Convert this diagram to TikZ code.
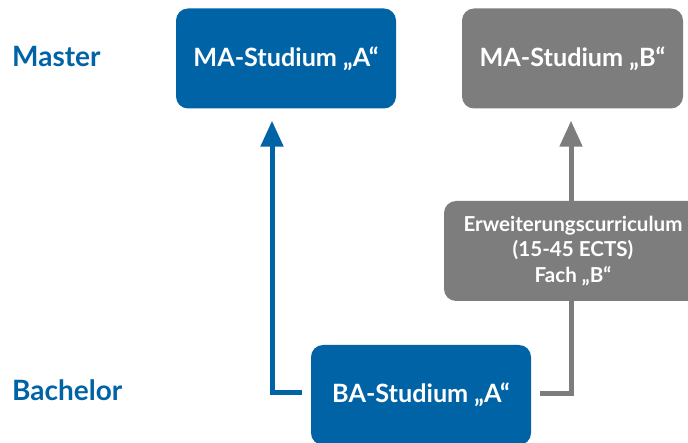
\documentclass[tikz,border=0pt]{standalone}
\usepackage{fontspec}
\setmainfont{Lato}
\usetikzlibrary{arrows.meta}
\definecolor{uniblue}{RGB}{0,99,166}
\definecolor{unigray}{RGB}{125,125,125}
\tikzset{
  box/.style={rounded corners=12pt, minimum width=220pt, minimum height=100pt, inner sep=0pt, text=white, font=\bfseries\fontsize{25.2}{28}\selectfont},
  bluebox/.style={box, fill=uniblue},
  graybox/.style={box, fill=unigray},
  level/.style={anchor=base west, text=uniblue, font=\bfseries\fontsize{28}{30}\selectfont, inner sep=0pt},
  conn/.style={line width=5pt},
  tip/.style={-{Triangle[width=22pt,length=26pt]}, shorten >=12pt},
}
\begin{document}
\begin{tikzpicture}[x=1pt,y=-1pt]
\useasboundingbox (0,0) rectangle (688,443);
\node[level] (master) at (12,67) {Master};
\node[level] (bachelor) at (12,401) {Bachelor};
\node[bluebox] (maa) at (286,58.5) {MA-Studium „A“};
\node[graybox, minimum width=221pt] (mab) at (572.5,58.5) {MA-Studium „B“};
\node[graybox, minimum width=258pt, align=center, font=\bfseries\fontsize{20.6}{25.5}\selectfont] (erw) at (573,251) {Erweiterungscurriculum\\(15-45 ECTS)\\Fach „B“};
\node[bluebox] (ba) at (421,395) {BA-Studium „A“};
\draw[conn, uniblue, tip, shorten <=9pt] ([yshift=2pt]ba.west) -| ([xshift=-14pt]maa.south);
\draw[conn, unigray, shorten <=9pt] ([yshift=1pt]ba.east) -| ([xshift=-2pt]erw.south);
\draw[conn, unigray, tip] ([xshift=-2pt]erw.north) -- ([xshift=-1.5pt]mab.south);
\end{tikzpicture}
\end{document}
